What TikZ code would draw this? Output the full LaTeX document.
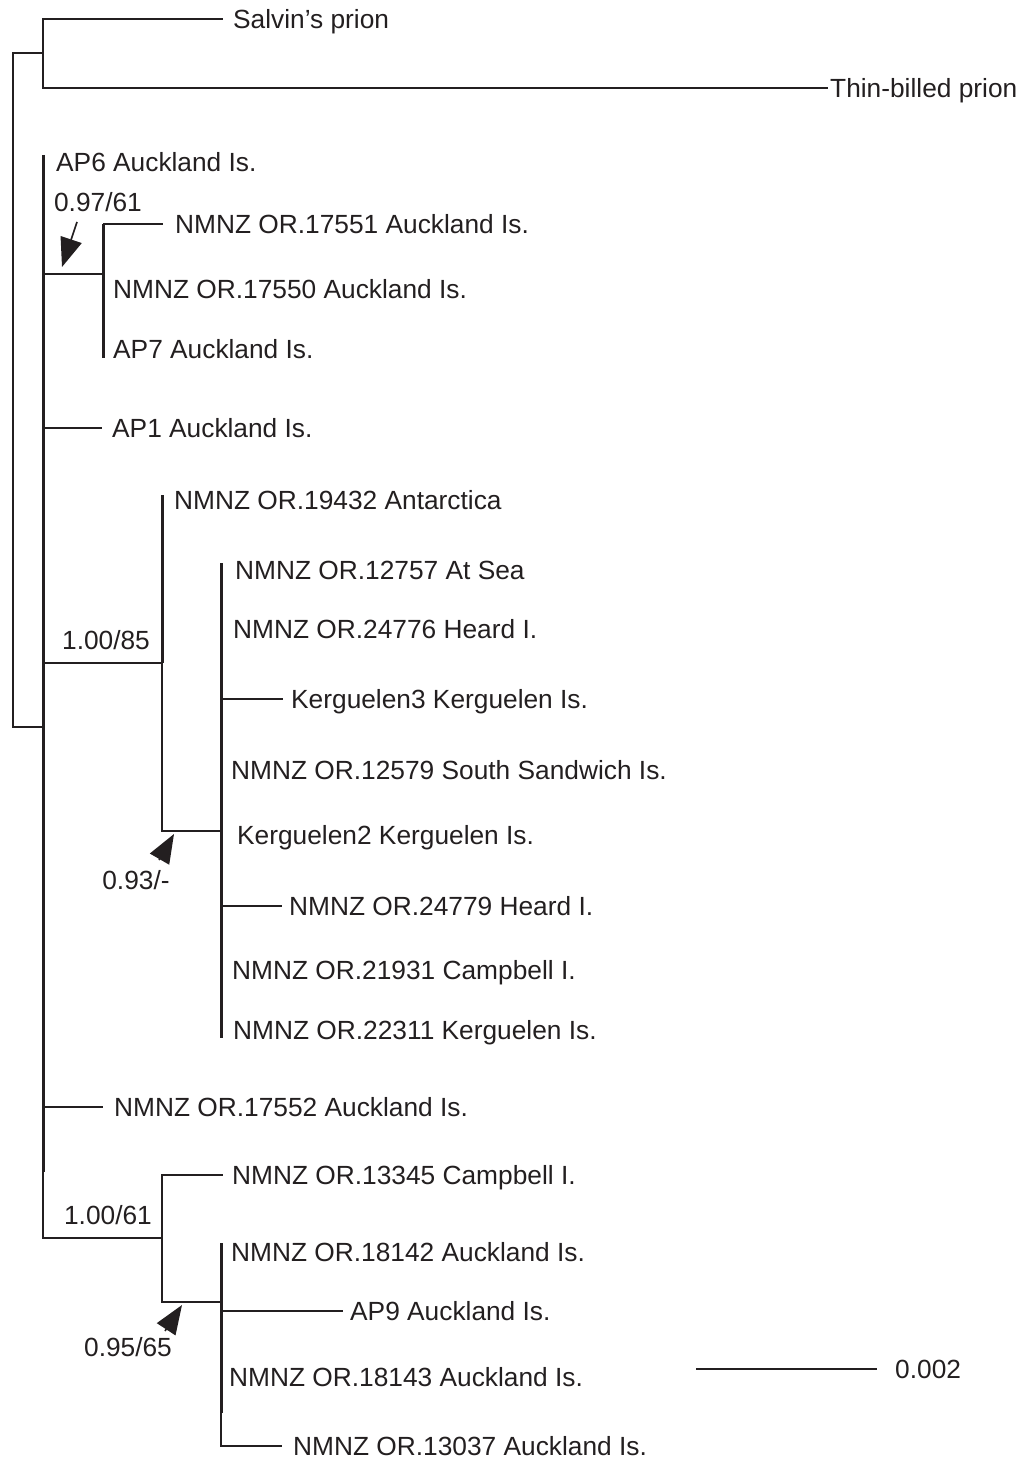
\documentclass[tikz,border=0pt]{standalone}
\usepackage{fontspec}
\setmainfont{Liberation Sans}
\usetikzlibrary{arrows.meta,positioning}
\definecolor{ink}{RGB}{35,31,32}

\begin{document}
\begin{tikzpicture}[
  x=1pt,y=-1pt,
  tip/.style={anchor=west,inner xsep=0pt,inner ysep=0pt,text height=18.6pt,text depth=0pt,text=ink,font=\fontsize{26.3}{30}\selectfont},
  supp/.style={inner sep=0pt,text height=18.6pt,text depth=0pt,text=ink,font=\fontsize{26.3}{30}\selectfont},
  br/.style={draw=ink,line width=1.6pt},
  poly/.style={draw=ink,line width=3pt},
  ptr/.style={draw=ink,line width=1.6pt,-{Triangle[length=29pt,width=22pt]}}
]
  \useasboundingbox (0,0) rectangle (1022,1458);

  % outgroup and root
  \coordinate (og) at (43,53);
  \coordinate (root) at (13,390);
  \coordinate (ing) at (43,727);
  \node[tip] (salvin) at (233,19) {Salvin’s prion};
  \node[tip] (thinb) at (830,88) {Thin-billed prion};
  \draw[br,shorten >=10pt] (og) |- (salvin);
  \draw[br,shorten >=2pt] (og) |- (thinb);
  \draw[br] (og) -| (root) |- (ing);

  % ingroup polytomy
  \coordinate (ingtop) at (43,155);
  \coordinate (ingend) at (43,1172);
  \draw[poly] (ingtop) -- (ingend);
  \node[tip] (ap6) at (56,162) {AP6 Auckland Is.};

  % 0.97/61 clade
  \coordinate (n97) at (103,274);
  \coordinate (n97top) at (103,224);
  \coordinate (n97end) at (103,358);
  \draw[br] (ing |- n97) -- (n97);
  \draw[poly] (n97top) -- (n97end);
  \node[tip] (t17551) at (175,224) {NMNZ OR.17551 Auckland Is.};
  \node[tip] (t17550) at (113,289) {NMNZ OR.17550 Auckland Is.};
  \node[tip] (ap7) at (113,349) {AP7 Auckland Is.};
  \draw[br,shorten >=12pt] (n97top) -- (t17551);

  \node[tip] (ap1) at (112,428) {AP1 Auckland Is.};
  \draw[br,shorten >=10pt] (ing |- ap1) -- (ap1);

  % 1.00/85 clade
  \coordinate (n85) at (162,663);
  \coordinate (n85top) at (162,495);
  \coordinate (kerg) at (221,831);
  \draw[br] (ing |- n85) -- (n85);
  \draw[poly] (n85top) -- (n85);
  \draw[br] (n85) |- (kerg);
  \node[tip] (t19432) at (174,500) {NMNZ OR.19432 Antarctica};

  \coordinate (kergtop) at (221,563);
  \coordinate (kergend) at (221,1038);
  \draw[poly] (kergtop) -- (kergend);
  \node[tip] (t12757) at (235,570) {NMNZ OR.12757 At Sea};
  \node[tip] (t24776) at (233,629) {NMNZ OR.24776 Heard I.};
  \node[tip] (kerg3) at (291,699) {Kerguelen3 Kerguelen Is.};
  \node[tip] (t12579) at (231,770) {NMNZ OR.12579 South Sandwich Is.};
  \node[tip] (kerg2) at (237,835) {Kerguelen2 Kerguelen Is.};
  \node[tip] (t24779) at (289,906) {NMNZ OR.24779 Heard I.};
  \node[tip] (t21931) at (232,970) {NMNZ OR.21931 Campbell I.};
  \node[tip] (t22311) at (233,1030) {NMNZ OR.22311 Kerguelen Is.};
  \draw[br,shorten >=8pt] (kerg |- kerg3) -- (kerg3);
  \draw[br,shorten >=7pt] (kerg |- t24779) -- (t24779);

  \node[tip] (t17552) at (114,1107) {NMNZ OR.17552 Auckland Is.};
  \draw[br,shorten >=11pt] (ing |- t17552) -- (t17552);

  % 1.00/61 clade
  \coordinate (n61) at (162,1238);
  \coordinate (n65) at (221,1302);
  \coordinate (n65top) at (221,1243);
  \coordinate (n65end) at (221,1413);
  \draw[br] (ingend) |- (n61);
  \node[tip] (t13345) at (232,1175) {NMNZ OR.13345 Campbell I.};
  \draw[br,shorten >=9pt] (n61) |- (t13345);
  \draw[br] (n61) |- (n65);
  \draw[poly] (n65top) -- (n65end);
  \node[tip] (t18142) at (231,1252) {NMNZ OR.18142 Auckland Is.};
  \node[tip] (ap9) at (350,1311) {AP9 Auckland Is.};
  \node[tip] (t18143) at (229,1377) {NMNZ OR.18143 Auckland Is.};
  \node[tip] (t13037) at (293,1446) {NMNZ OR.13037 Auckland Is.};
  \draw[br,shorten >=7pt] (n65 |- ap9) -- (ap9);
  \draw[br,shorten >=11pt] (n65end) |- (t13037);

  % support values
  \node[supp] (s97) at (98,202) {0.97/61};
  \node[supp] (s85) at (106,640) {1.00/85};
  \node[supp] (s93) at (136,880) {0.93/-};
  \node[supp] (s61) at (108,1215) {1.00/61};
  \node[supp] (s65) at (128,1347) {0.95/65};
  \coordinate (p97a) at (77,222);
  \coordinate (p97b) at (62,267);
  \coordinate (p93a) at (159,860);
  \coordinate (p93b) at (174,834);
  \coordinate (p65a) at (165,1331);
  \coordinate (p65b) at (182,1305);
  \draw[ptr] (p97a) -- (p97b);
  \draw[ptr] (p93a) -- (p93b);
  \draw[ptr] (p65a) -- (p65b);

  % scale bar
  \coordinate (sb0) at (696,1369);
  \coordinate (sb1) at (877,1369);
  \draw[draw=ink,line width=2.6pt] (sb0) -- (sb1);
  \node[tip,right=18pt of sb1] (sblab) {0.002};
\end{tikzpicture}
\end{document}
